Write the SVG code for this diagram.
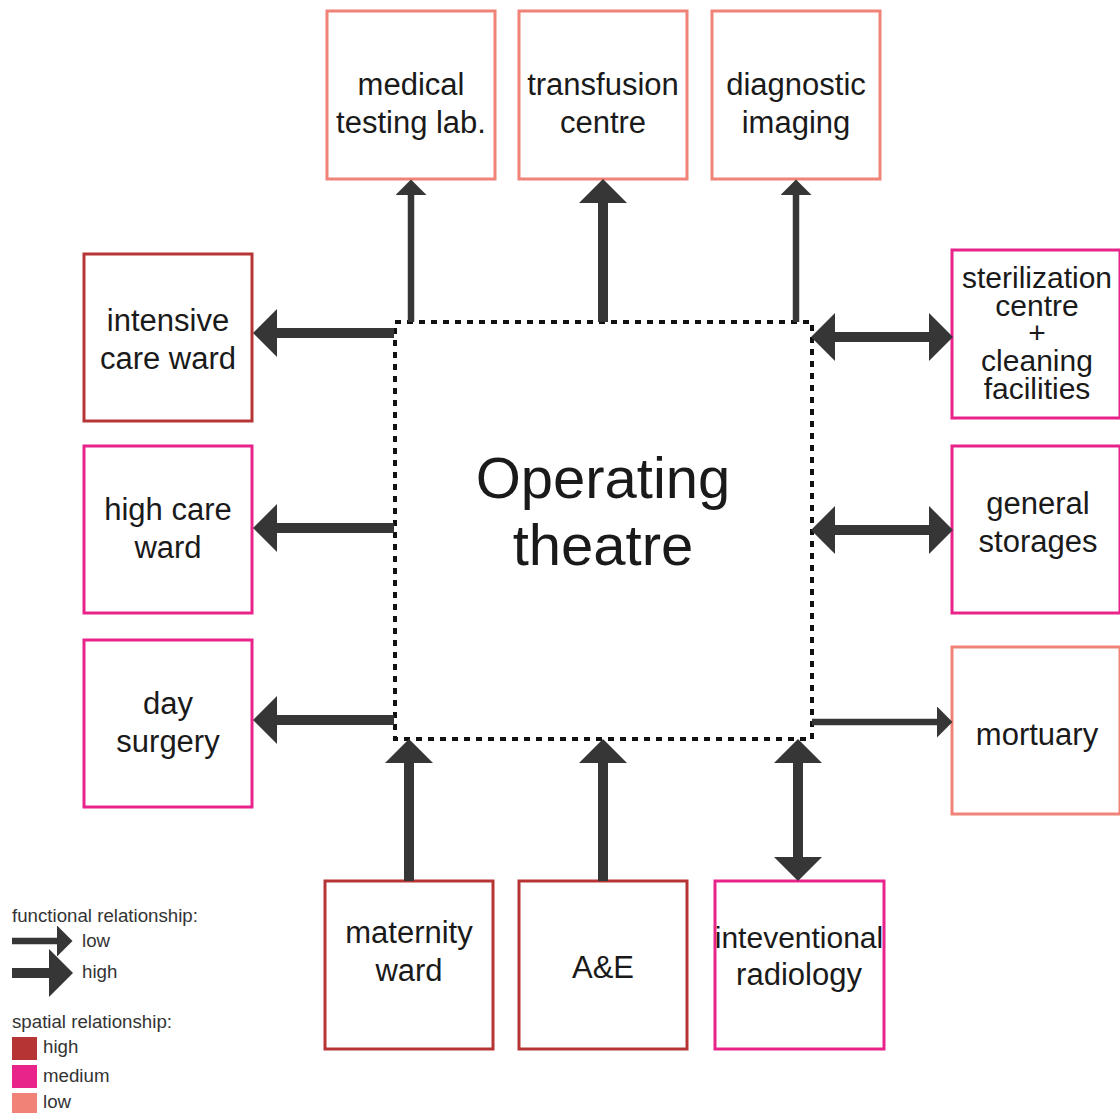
<svg xmlns="http://www.w3.org/2000/svg" width="1120" height="1113" viewBox="0 0 1120 1113">
  <defs>
    <style>
      .box { fill: #fff; stroke-width: 3; }
      .high { stroke: #b73434; }
      .medium { stroke: #e8248a; }
      .low { stroke: #f08278; }
      .label { font-family: "Liberation Sans", Arial, sans-serif; font-size: 31px; fill: #1a1a1a; text-anchor: middle; }
      .tight { font-size: 30px; }
      .title { font-family: "Liberation Sans", Arial, sans-serif; font-size: 58px; fill: #1a1a1a; text-anchor: middle; }
      .legend { font-family: "Liberation Sans", Arial, sans-serif; font-size: 18.7px; fill: #333; }
      .strong { stroke: #363636; stroke-width: 10; fill: none; }
      .weak { stroke: #363636; stroke-width: 6.5; fill: none; }
      .frame { fill: none; stroke: #111; stroke-width: 4; stroke-dasharray: 6 6; }
    </style>
    <!-- arrow heads: base sits at the line end, tip points forward -->
    <marker id="head-strong" markerUnits="userSpaceOnUse" markerWidth="24" markerHeight="48" viewBox="0 0 23 46" refX="0" refY="23" orient="auto-start-reverse">
      <path d="M0,0 L23,23 L0,46 z" fill="#363636"/>
    </marker>
    <marker id="head-weak" markerUnits="userSpaceOnUse" markerWidth="16" markerHeight="31" viewBox="0 0 15 30" refX="0" refY="15" orient="auto-start-reverse">
      <path d="M0,0 L15,15 L0,30 z" fill="#363636"/>
    </marker>
  </defs>

  <rect width="1120" height="1113" fill="#fff"/>

  <!-- central unit -->
  <g id="operating-theatre">
    <rect class="frame" x="395" y="322" width="417" height="417"/>
    <text class="title" x="603" y="498">Operating</text>
    <text class="title" x="603" y="565">theatre</text>
  </g>

  <!-- top row -->
  <g id="medical-testing-lab">
    <rect class="box low" x="327" y="11" width="168" height="168"/>
    <text class="label" x="411" y="95">medical</text>
    <text class="label" x="411" y="133">testing lab.</text>
  </g>
  <g id="transfusion-centre">
    <rect class="box low" x="519" y="11" width="168" height="168"/>
    <text class="label" x="603" y="95">transfusion</text>
    <text class="label" x="603" y="133">centre</text>
  </g>
  <g id="diagnostic-imaging">
    <rect class="box low" x="712" y="11" width="168" height="168"/>
    <text class="label" x="796" y="95">diagnostic</text>
    <text class="label" x="796" y="133">imaging</text>
  </g>

  <!-- left column -->
  <g id="intensive-care-ward">
    <rect class="box high" x="84" y="254" width="168" height="167"/>
    <text class="label" x="168" y="331">intensive</text>
    <text class="label" x="168" y="369">care ward</text>
  </g>
  <g id="high-care-ward">
    <rect class="box medium" x="84" y="446" width="168" height="167"/>
    <text class="label" x="168" y="520">high care</text>
    <text class="label" x="168" y="558">ward</text>
  </g>
  <g id="day-surgery">
    <rect class="box medium" x="84" y="640" width="168" height="167"/>
    <text class="label" x="168" y="714">day</text>
    <text class="label" x="168" y="752">surgery</text>
  </g>

  <!-- right column -->
  <g id="sterilization-centre">
    <rect class="box medium" x="952" y="250" width="168" height="168"/>
    <text class="label tight" x="1037" y="288">sterilization</text>
    <text class="label tight" x="1037" y="316">centre</text>
    <text class="label tight" x="1037" y="343">+</text>
    <text class="label tight" x="1037" y="371">cleaning</text>
    <text class="label tight" x="1037" y="399">facilities</text>
  </g>
  <g id="general-storages">
    <rect class="box medium" x="952" y="446" width="168" height="167"/>
    <text class="label" x="1038" y="514">general</text>
    <text class="label" x="1038" y="552">storages</text>
  </g>
  <g id="mortuary">
    <rect class="box low" x="952" y="647" width="168" height="167"/>
    <text class="label" x="1037" y="745">mortuary</text>
  </g>

  <!-- bottom row -->
  <g id="maternity-ward">
    <rect class="box high" x="325" y="881" width="168" height="168"/>
    <text class="label" x="409" y="943">maternity</text>
    <text class="label" x="409" y="981">ward</text>
  </g>
  <g id="a-and-e">
    <rect class="box high" x="519" y="881" width="168" height="168"/>
    <text class="label" x="603" y="978">A&amp;E</text>
  </g>
  <g id="interventional-radiology">
    <rect class="box medium" x="715" y="881" width="169" height="168"/>
    <text class="label tight" x="799" y="948">inteventional</text>
    <text class="label" x="799" y="985">radiology</text>
  </g>

  <!-- connectors -->
  <g id="connectors">
    <line class="weak" x1="411" y1="322" x2="411" y2="195" marker-end="url(#head-weak)"/>
    <line class="strong" x1="603" y1="322" x2="603" y2="203" marker-end="url(#head-strong)"/>
    <line class="weak" x1="796" y1="322" x2="796" y2="195" marker-end="url(#head-weak)"/>

    <line class="strong" x1="394" y1="333" x2="277" y2="333" marker-end="url(#head-strong)"/>
    <line class="strong" x1="394" y1="528" x2="277" y2="528" marker-end="url(#head-strong)"/>
    <line class="strong" x1="394" y1="720" x2="277" y2="720" marker-end="url(#head-strong)"/>

    <line class="strong" x1="835" y1="337" x2="929" y2="337" marker-start="url(#head-strong)" marker-end="url(#head-strong)"/>
    <line class="strong" x1="835" y1="530" x2="929" y2="530" marker-start="url(#head-strong)" marker-end="url(#head-strong)"/>
    <line class="weak" x1="812" y1="722" x2="937" y2="722" marker-end="url(#head-weak)"/>

    <line class="strong" x1="409" y1="881" x2="409" y2="763" marker-end="url(#head-strong)"/>
    <line class="strong" x1="603" y1="881" x2="603" y2="763" marker-end="url(#head-strong)"/>
    <line class="strong" x1="798" y1="763" x2="798" y2="857" marker-start="url(#head-strong)" marker-end="url(#head-strong)"/>
  </g>

  <!-- key -->
  <g id="legend">
    <text class="legend" x="12" y="922">functional relationship:</text>
    <line class="weak" x1="12" y1="941" x2="57" y2="941" marker-end="url(#head-weak)"/>
    <text class="legend" x="82" y="947">low</text>
    <line class="strong" x1="12" y1="973" x2="49" y2="973" marker-end="url(#head-strong)"/>
    <text class="legend" x="82" y="978">high</text>

    <text class="legend" x="12" y="1028">spatial relationship:</text>
    <rect x="12" y="1037" width="25" height="23" fill="#b73434"/>
    <text class="legend" x="43" y="1053">high</text>
    <rect x="12" y="1065" width="25" height="23" fill="#e8248a"/>
    <text class="legend" x="43" y="1082">medium</text>
    <rect x="12" y="1093" width="25" height="20" fill="#f08278"/>
    <text class="legend" x="43" y="1108">low</text>
  </g>
</svg>
